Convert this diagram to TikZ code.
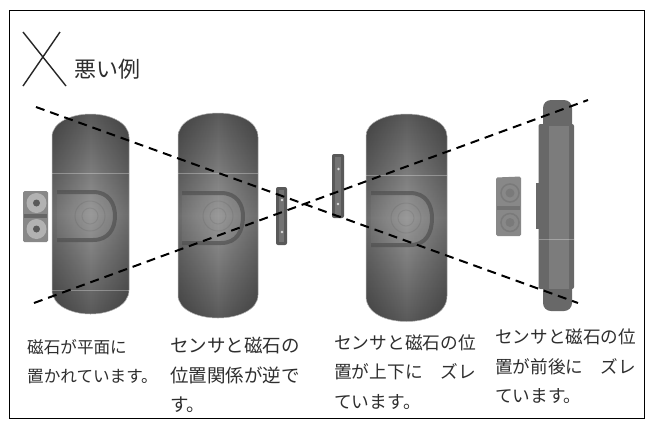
\documentclass[tikz,border=0pt]{standalone}
\usepackage{fontspec}
\setmainfont{Noto Sans CJK JP}
\usetikzlibrary{fadings}

\definecolor{bodydark}{HTML}{5A5A5A}
\definecolor{bodymid}{HTML}{969696}
\definecolor{rimdark}{HTML}{505050}
\definecolor{partgray}{HTML}{888888}
\definecolor{sidedark}{HTML}{686868}
\definecolor{sidemid}{HTML}{7C7C7C}

\tikzfading[name=edgefade, left color=transparent!72, right color=transparent!72, middle color=transparent!100]

\tikzset{
  note/.style={anchor=north west, inner sep=0pt, align=left, text=black!82},
  tiltline/.style={draw=black, line width=2pt, dash pattern=on 9pt off 6pt},
  crossline/.style={draw=black!85, line width=1.4pt},
  seamline/.style={draw=white, opacity=.3, line width=.6pt},
  recess/.style={draw=rimdark, opacity=.7, line width=4pt},
  faintring/.style={draw=black, opacity=.07, line width=1pt},
}

% capsule: left, right, top, upper shoulder, lower shoulder, bottom
\newcommand{\capsule}[6]{
  \def\capsulepath{(#1,#4) .. controls (#1,{#3+8}) and ({#1+20},#3) .. ({(#1+#2)/2},#3)
    .. controls ({#2-20},#3) and (#2,{#3+8}) .. (#2,#4) -- (#2,#5)
    .. controls (#2,{#6-8}) and ({#2-20},#6) .. ({(#1+#2)/2},#6)
    .. controls ({#1+20},#6) and (#1,{#6-8}) .. (#1,#5) -- cycle}
  \shade[top color=bodydark, bottom color=bodydark, middle color=bodymid] \capsulepath;
  \fill[black, path fading=edgefade] \capsulepath;
  \draw[black!30, line width=.5pt] \capsulepath;
}
% recess on a body: left, right, top, bottom, centre x, centre y
\newcommand{\hollow}[6]{
  \fill[white, opacity=.04] (#1,#3) -- ({#2-22},#3) .. controls ({#2-6},#3) and (#2,{#3+12}) .. (#2,#6)
    .. controls (#2,{#4-12}) and ({#2-6},#4) .. ({#2-22},#4) -- (#1,#4) -- cycle;
  \draw[recess] (#1,#3) -- ({#2-22},#3) .. controls ({#2-6},#3) and (#2,{#3+12}) .. (#2,#6)
    .. controls (#2,{#4-12}) and ({#2-6},#4) .. ({#2-22},#4) -- (#1,#4);
  \draw[faintring] (#5,#6) circle[radius=15];
  \draw[faintring] (#5,#6) circle[radius=8];
}

\begin{document}
\begin{tikzpicture}[x=1pt, y=-1pt]
\useasboundingbox (0,0) rectangle (650,432);
\fill[white] (0,0) rectangle (650,432);
\draw[black, line width=1pt] (9.5,10.5) rectangle (644.5,418);

% title
\coordinate (crossA) at (23,32);
\coordinate (crossB) at (66,86);
\coordinate (crossC) at (60,32);
\coordinate (crossD) at (23,86);
\draw[crossline] (crossA) -- (crossB);
\draw[crossline] (crossC) -- (crossD);
\node[anchor=west, inner sep=0pt, text=black!82, font=\fontsize{22}{24}\selectfont] (title) at (74,69) {悪い例};

% bodies
\capsule{52}{129}{114}{137}{290}{314}
\capsule{178}{258}{113}{137}{295}{318}
\capsule{366}{447}{114}{136}{296}{321.5}
\hollow{57}{115}{192}{240}{90}{216}
\hollow{182}{243}{193}{243}{218}{216}
\hollow{371}{432}{193}{245}{406}{218}
\draw[seamline] (52,173) -- (129,173);
\draw[seamline] (52,290) -- (129,290);
\draw[seamline] (178,173) -- (258,173);
\draw[seamline] (366,175) -- (447,175);

% magnets
\fill[partgray, rounded corners=1.5pt] (23,191) rectangle (48,242);
\fill[black!60] (24,214) rectangle (47,218);
\foreach \cy in {203,229} {
  \fill[black!30] (36.5,\cy) circle[radius=10];
  \fill[black!65] (36.5,\cy) circle[radius=3.5];
}
\fill[partgray, rounded corners=1.5pt] (496,177.5) -- (521,176.5) -- (521,236) -- (496,236) -- cycle;
\fill[black!55] (497,206) rectangle (520,210);
\foreach \cy in {193,222.5} {
  \draw[black!52, line width=1.5pt] (510,\cy) circle[radius=9];
  \fill[black!52] (510,\cy) circle[radius=4.5];
}

% sensors
\fill[black!65, rounded corners=2pt] (276,187) rectangle (287,245);
\fill[black!55] (279,190) rectangle (284,242);
\fill[white!85!black] (282,200) circle[radius=1.3];
\fill[white!85!black] (282,232) circle[radius=1.3];
\fill[black!65, rounded corners=2pt] (332,154) rectangle (344,218);
\fill[black!55] (335,157) rectangle (341,215);
\fill[white!85!black] (338.5,169) circle[radius=1.3];
\fill[white!85!black] (338,204) circle[radius=1.3];

% side view
\fill[sidedark] (536,183) rectangle (541,229);
\fill[sidedark, rounded corners=8pt] (543,100) rectangle (572,311);
\fill[sidedark, rounded corners=2pt] (538.5,124) rectangle (574,289);
\fill[sidemid] (549,126) rectangle (569,289);
\draw[seamline] (538.5,239) -- (574,239);

% sight lines
\coordinate (lineAstart) at (36,107);
\coordinate (lineAend) at (578,303);
\coordinate (lineBstart) at (34,303);
\coordinate (lineBend) at (588,100);
\draw[tiltline] (lineAstart) -- (lineAend);
\draw[tiltline] (lineBstart) -- (lineBend);

% captions
\node[note, font=\fontsize{16.6}{29.5}\selectfont] (noteA) at (27,339) {磁石が平面に\\置かれています。};
\node[note, font=\fontsize{18.5}{29.5}\selectfont] (noteB) at (170,337) {センサと磁石の\\位置関係が逆で\\す。};
\node[note, font=\fontsize{17.7}{29.5}\selectfont] (noteC) at (334,334) {センサと磁石の位\\置が上下に　ズレ\\ています。};
\node[note, font=\fontsize{17.6}{29.5}\selectfont] (noteD) at (495,329) {センサと磁石の位\\置が前後に　ズレ\\ています。};
\end{tikzpicture}
\end{document}
